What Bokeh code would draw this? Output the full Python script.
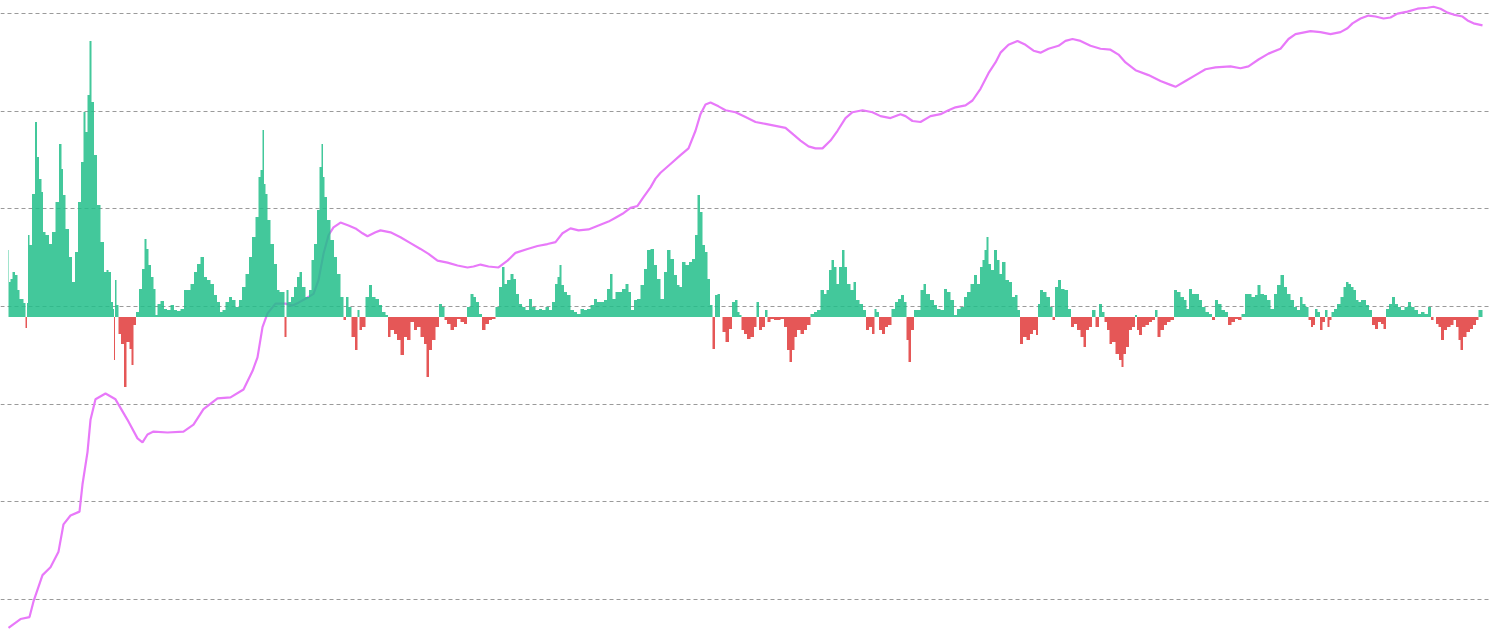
from bokeh.plotting import figure
from bokeh.models import Range1d, Grid, FixedTicker, ColumnDataSource
from bokeh.embed import file_html
from bokeh.resources import INLINE

# ---- data ----
# daily flow bars: day index and value (positive = inflow green, negative = outflow red)
bar_day = [8, 9, 11, 13, 16, 18, 20, 22, 24, 26, 27, 28, 30, 33, 36, 37, 40, 42, 43, 47, 50, 53, 57, 60, 62, 63,
           67, 70, 73, 76, 79, 82, 84, 86, 88, 90, 92, 95, 98, 102, 105, 107, 109, 112, 113, 114, 115, 117, 119,
           122, 125, 127, 128, 130, 132, 134, 137, 140, 143, 145, 147, 149, 152, 154, 156, 158, 162, 165, 168, 172,
           175, 178, 182, 185, 188, 192, 195, 198, 202, 205, 208, 212, 215, 218, 221, 223, 227, 230, 233, 237, 240,
           243, 247, 250, 253, 257, 259, 261, 263, 264, 266, 268, 272, 275, 278, 280, 283, 285, 287, 289, 292, 295,
           298, 300, 303, 307, 310, 312, 315, 318, 320, 322, 323, 325, 328, 332, 335, 338, 342, 344, 347, 349, 353,
           356, 358, 360, 363, 367, 370, 373, 377, 380, 383, 387, 388, 392, 395, 398, 402, 405, 408, 412, 415, 418,
           422, 425, 427, 430, 433, 437, 440, 443, 445, 448, 452, 455, 458, 462, 465, 468, 472, 474, 477, 480, 483,
           487, 490, 493, 497, 500, 503, 505, 508, 512, 514, 517, 520, 523, 527, 530, 533, 537, 540, 543, 547, 550,
           553, 556, 558, 560, 562, 565, 568, 572, 575, 578, 582, 585, 588, 592, 595, 598, 602, 605, 608, 611, 613,
           617, 620, 623, 627, 629, 632, 635, 638, 642, 645, 648, 652, 655, 658, 662, 665, 668, 672, 675, 678, 680,
           683, 687, 690, 693, 696, 698, 701, 703, 706, 708, 711, 713, 716, 718, 721, 723, 727, 730, 733, 736, 738,
           740, 742, 745, 748, 752, 755, 757, 760, 763, 766, 768, 772, 775, 778, 782, 785, 788, 790, 793, 795, 798,
           802, 805, 808, 812, 815, 818, 822, 825, 827, 830, 832, 835, 837, 840, 843, 845, 848, 852, 854, 857, 861,
           864, 867, 870, 873, 875, 877, 880, 883, 886, 889, 893, 896, 899, 902, 905, 907, 909, 912, 915, 918, 922,
           924, 927, 932, 935, 938, 942, 945, 948, 952, 955, 958, 962, 965, 968, 972, 975, 978, 981, 983, 985, 987,
           989, 992, 995, 998, 1000, 1003, 1007, 1010, 1013, 1016, 1018, 1021, 1024, 1028, 1031, 1034, 1037, 1038,
           1041, 1044, 1048, 1051, 1053, 1056, 1059, 1062, 1066, 1069, 1072, 1075, 1078, 1082, 1084, 1087, 1090,
           1093, 1097, 1100, 1103, 1105, 1108, 1110, 1113, 1117, 1120, 1122, 1124, 1127, 1130, 1133, 1136, 1137,
           1140, 1143, 1147, 1150, 1153, 1156, 1158, 1162, 1165, 1168, 1172, 1175, 1178, 1182, 1185, 1187, 1190,
           1193, 1197, 1200, 1203, 1207, 1210, 1213, 1216, 1219, 1223, 1226, 1229, 1233, 1236, 1239, 1243, 1246,
           1249, 1253, 1256, 1258, 1262, 1265, 1268, 1272, 1275, 1278, 1282, 1285, 1288, 1292, 1295, 1298, 1301,
           1303, 1307, 1309, 1312, 1313, 1316, 1318, 1321, 1323, 1326, 1328, 1330, 1332, 1335, 1338, 1342, 1344,
           1347, 1349, 1352, 1354, 1357, 1359, 1362, 1364, 1367, 1370, 1373, 1376, 1379, 1382, 1384, 1387, 1390,
           1393, 1396, 1399, 1402, 1406, 1409, 1412, 1416, 1419, 1422, 1426, 1429, 1432, 1434, 1437, 1439, 1442,
           1445, 1448, 1452, 1454, 1457, 1459, 1461, 1464, 1468, 1471, 1474, 1477, 1479, 1482]
bar_val = [67, 35, 38, 45, 42, 27, 18, 18, 14, -11, 14, 82, 72, 123, 195, 160, 138, 125, 85, 82, 73, 85, 115, 173, 148, 122,
           88, 60, 35, 65, 115, 155, 205, 185, 222, 276, 215, 162, 112, 75, 45, 47, 45, 15, 8, -43, 37, 12, -17,
           -27, -70, -25, -25, -32, -48, -8, 5, 28, 48, 78, 68, 52, 40, 28, 2, 13, 16, 8, 7, 12,
           7, 6, 8, 27, 27, 33, 45, 53, 60, 40, 37, 33, 22, 15, 5, 7, 15, 20, 17, 10, 17,
           30, 43, 60, 80, 100, 140, 147, 187, 133, 123, 97, 73, 53, 27, 25, 25, -20, 27, 15, 20, 30,
           40, 45, 30, 20, 27, 57, 73, 107, 150, 173, 140, 120, 97, 77, 60, 43, 20, -3, 20, 10, -20,
           -33, 7, -13, -10, 20, 32, 20, 18, 12, 5, 2, -20, -13, -17, -23, -38, -20, -23, -5, -13, -10,
           -20, -27, -60, -33, -23, -10, 13, 10, -3, -7, -13, -10, -2, -5, -7, 10, 23, 20, 15, 3, -13,
           -7, -3, -2, 10, 30, 50, 33, 37, 43, 38, 23, 13, 10, 7, 18, 10, 7, 8, 7, 10, 7,
           15, 33, 40, 52, 32, 25, 22, 7, 5, 3, 8, 7, 8, 12, 18, 15, 15, 17, 28, 43, 18,
           25, 25, 28, 33, 25, 7, 17, 18, 32, 48, 67, 68, 52, 38, 18, 45, 67, 58, 42, 32, 30,
           55, 52, 55, 58, 82, 122, 105, 72, 65, 38, 12, -32, 22, 23, 0, -15, -25, -12, 15, 17, 5,
           2, -13, -17, -22, -20, -10, 15, -13, -10, 7, -5, -2, -3, -3, -2, -10, -33, -45, -33, -20, -13,
           -17, -13, -8, 3, 5, 7, 27, 23, 27, 47, 57, 50, 33, 50, 67, 50, 33, 27, 35, 17, 13,
           7, -13, -10, -17, 8, 5, -13, -17, -10, -8, 8, 15, 18, 22, 15, -23, -45, -13, 7, 7, 27,
           33, 23, 17, 12, 8, 7, 28, 25, 17, 2, 8, 10, 20, 25, 33, 42, 33, 50, 57, 67, 80,
           53, 47, 67, 57, 43, 55, 37, 35, 20, 22, 7, -27, -20, -23, -17, -13, -18, 13,
           27, 25, 20, 10, -3, 30, 37, 28, 27, 8, -10, -7, -13, -20, -30, -13, -10,
           7, -10, 13, 5, -5, -13, -27, -25, -37, -43, -50, -37, -30, -13, -10, 2, -13,
           -18, -10, -8, -5, -3, 7, -20, -13, -8, -5, -3, 27, 25, 20, 17, 8, 28,
           23, 23, 17, 10, 5, 3, -3, 17, 13, 7, 5, -8, -5, -2, -3, 3, 23,
           23, 20, 22, 32, 23, 22, 17, 8, 23, 32, 42, 30, 23, 17, 10, 7, 20,
           13, 10, -3, -10, -8, 8, 5, -13, -5, 7, -10, -3, 5, 8, 13, 20, 30,
           35, 33, 30, 27, 17, 15, 17, 17, 12, 7, -8, -12, -5, -7, -12, 8, 13,
           20, 13, 10, 7, 10, 15, 10, 7, 3, 5, 3, 10, -3, 0, -7, -10, -23,
           -13, -10, -8, -3, -10, -23, -33, -20, -15, -12, -8, -3, 7, 7]

# cumulative line: day index and value
line_day = [8, 20, 29, 33, 42, 50, 58, 63, 70, 79, 82, 87, 90, 95, 105, 115, 127, 137, 142, 147, 153, 167, 183, 193,
            203, 217, 230, 243, 252, 257, 262, 267, 275, 285, 292, 298, 305, 313, 318, 323, 328, 333, 340, 348,
            355, 362, 367, 375, 380, 390, 400, 410, 420, 428, 437, 447, 457, 467, 473, 480, 488, 498, 507, 515,
            527, 537, 547, 555, 562, 570, 578, 588, 598, 608, 615, 622, 630, 637, 643, 650, 655, 660, 670, 680,
            688, 695, 700, 705, 710, 718, 725, 735, 745, 755, 765, 775, 785, 793, 800, 808, 815, 822, 830, 837,
            845, 852, 862, 872, 880, 890, 900, 905, 912, 920, 930, 940, 948, 955, 965, 972, 980, 988, 995, 1000,
            1008, 1017, 1025, 1033, 1040, 1048, 1058, 1065, 1072, 1080, 1090, 1100, 1110, 1118, 1125, 1135, 1148,
            1160, 1170, 1175, 1185, 1195, 1205, 1215, 1230, 1240, 1248, 1258, 1268, 1280, 1288, 1295, 1300, 1310,
            1320, 1330, 1340, 1347, 1352, 1360, 1368, 1375, 1383, 1390, 1397, 1407, 1417, 1427, 1433, 1440, 1447,
            1453, 1462, 1467, 1473, 1482]
line_val = [-29, -20, -18, -2, 25, 33, 49, 77, 86, 90, 118, 151, 184, 205, 211, 205, 184, 165, 161, 169, 172, 171, 172, 179,
            195, 206, 207, 215, 234, 248, 279, 293, 303, 303, 301, 304, 308, 313, 327, 354, 373, 381, 386, 383,
            380, 375, 372, 376, 378, 376, 371, 365, 359, 354, 347, 345, 342, 340, 341, 343, 341, 340, 347, 355,
            359, 362, 364, 366, 375, 380, 378, 379, 383, 387, 391, 395, 401, 403, 412, 422, 431, 437, 446, 455,
            462, 480, 497, 507, 509, 505, 501, 499, 494, 489, 487, 485, 483, 476, 470, 464, 462, 462, 470, 480,
            493, 499, 501, 499, 495, 493, 497, 495, 490, 489, 495, 497, 501, 504, 506, 511, 523, 539, 550, 560,
            568, 572, 568, 562, 560, 564, 567, 572, 574, 572, 567, 564, 563, 558, 550, 542, 537,
            531, 527, 525, 531, 537, 543, 545, 546, 544, 546, 553, 559, 564, 574, 579, 580, 582,
            581, 579, 581, 585, 590, 595, 598, 597, 595, 596, 600, 602, 605, 606, 607, 605, 601,
            599, 597, 593, 590, 588]

grid_levels = [0, 100, 200, 300, 400, 500, 600]

# ---- figure ----
p = figure(width=1490, height=633, output_backend="svg", toolbar_location=None,
           x_range=Range1d(0, 1490), y_range=Range1d(-34.8, 613.4),
           x_axis_location=None, y_axis_location=None, min_border=0)
p.extra_y_ranges = {"bars": Range1d(-316.5, 316.5)}
p.outline_line_color = None
p.background_fill_color = "white"
p.border_fill_color = "white"
p.xgrid.visible = False
p.ygrid.visible = False

grid = Grid(dimension=1, ticker=FixedTicker(ticks=grid_levels),
            grid_line_color="#9a9a9a", grid_line_dash="4 3", grid_line_width=1)
p.add_layout(grid)

p.line(line_day, line_val, line_color="#e879f9", line_width=2.2)

pos = [v if v > 0 else 0 for v in bar_val]
neg = [v if v < 0 else 0 for v in bar_val]
zeros = [0] * len(bar_val)
src = ColumnDataSource(dict(x=bar_day, z=zeros, pos=pos, neg=neg))
p.varea_step(x="x", y1="z", y2="pos", source=src, step_mode="center",
             fill_color="#22be89", fill_alpha=0.85, y_range_name="bars")
p.varea_step(x="x", y1="z", y2="neg", source=src, step_mode="center",
             fill_color="#e03a3a", fill_alpha=0.85, y_range_name="bars")

open("out.html", "w").write(file_html(p, INLINE))
